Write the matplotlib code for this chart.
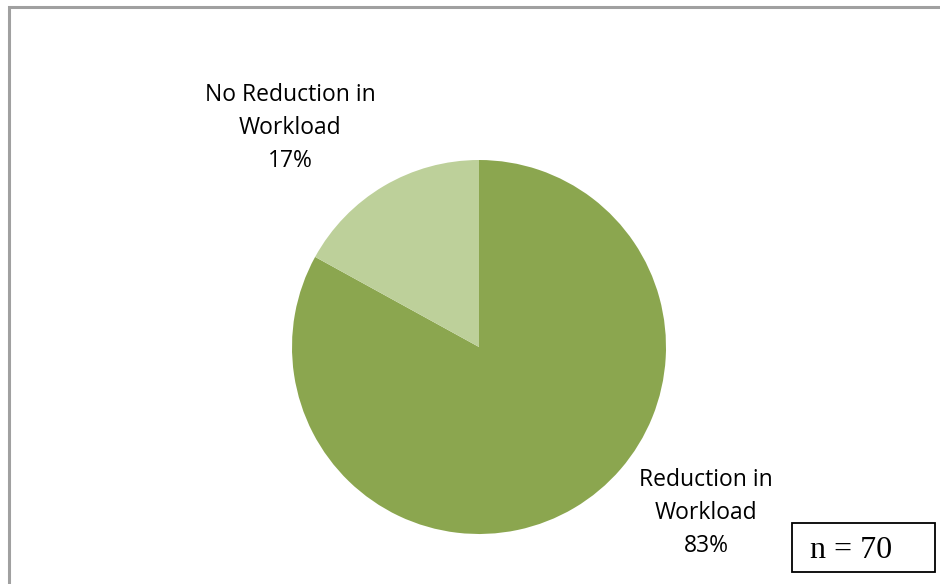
import matplotlib
matplotlib.use("Agg")
import matplotlib.pyplot as plt
from matplotlib.patches import Rectangle

# survey answers on workload, share of respondents (%)
categories = ["Reduction in\nWorkload", "No Reduction in\nWorkload"]
shares = [83, 17]
colors = ["#8BA64F", "#BDD09A"]
n_resp = 70

W, H = 940, 584
fig = plt.figure(figsize=(W / 100, H / 100), dpi=100)
ax = fig.add_axes([0, 0, 1, 1])

cx, cy, r = 479, H - 347, 187
ax.pie(shares, colors=colors, startangle=90, counterclock=False,
       center=(cx, cy), radius=r, wedgeprops=dict(linewidth=0))
ax.set_xlim(0, W)
ax.set_ylim(0, H)
ax.set_aspect("equal")
ax.axis("off")

# data labels
lbl_pos = [(706, H - 513), (290, H - 128)]
for cat, val, (x, y) in zip(categories, shares, lbl_pos):
    ax.text(x, y, f"{cat}\n{val}%", ha="center", va="center",
            fontsize=16.5, family="Open Sans", linespacing=1.5)

# chart area border (top and left edges only)
ax.plot([9, 9, W], [0, H - 7, H - 7], color="#A0A0A0", lw=2.2,
        solid_joinstyle="miter")

# sample size box
ax.add_patch(Rectangle((792, H - 572), 143, 49, fill=False,
                       edgecolor="black", lw=1.3))
ax.text(851, H - 551, f"n = {n_resp}", ha="center", va="center",
        fontsize=23, family="Liberation Serif")

fig.savefig("out.png", dpi=100)
